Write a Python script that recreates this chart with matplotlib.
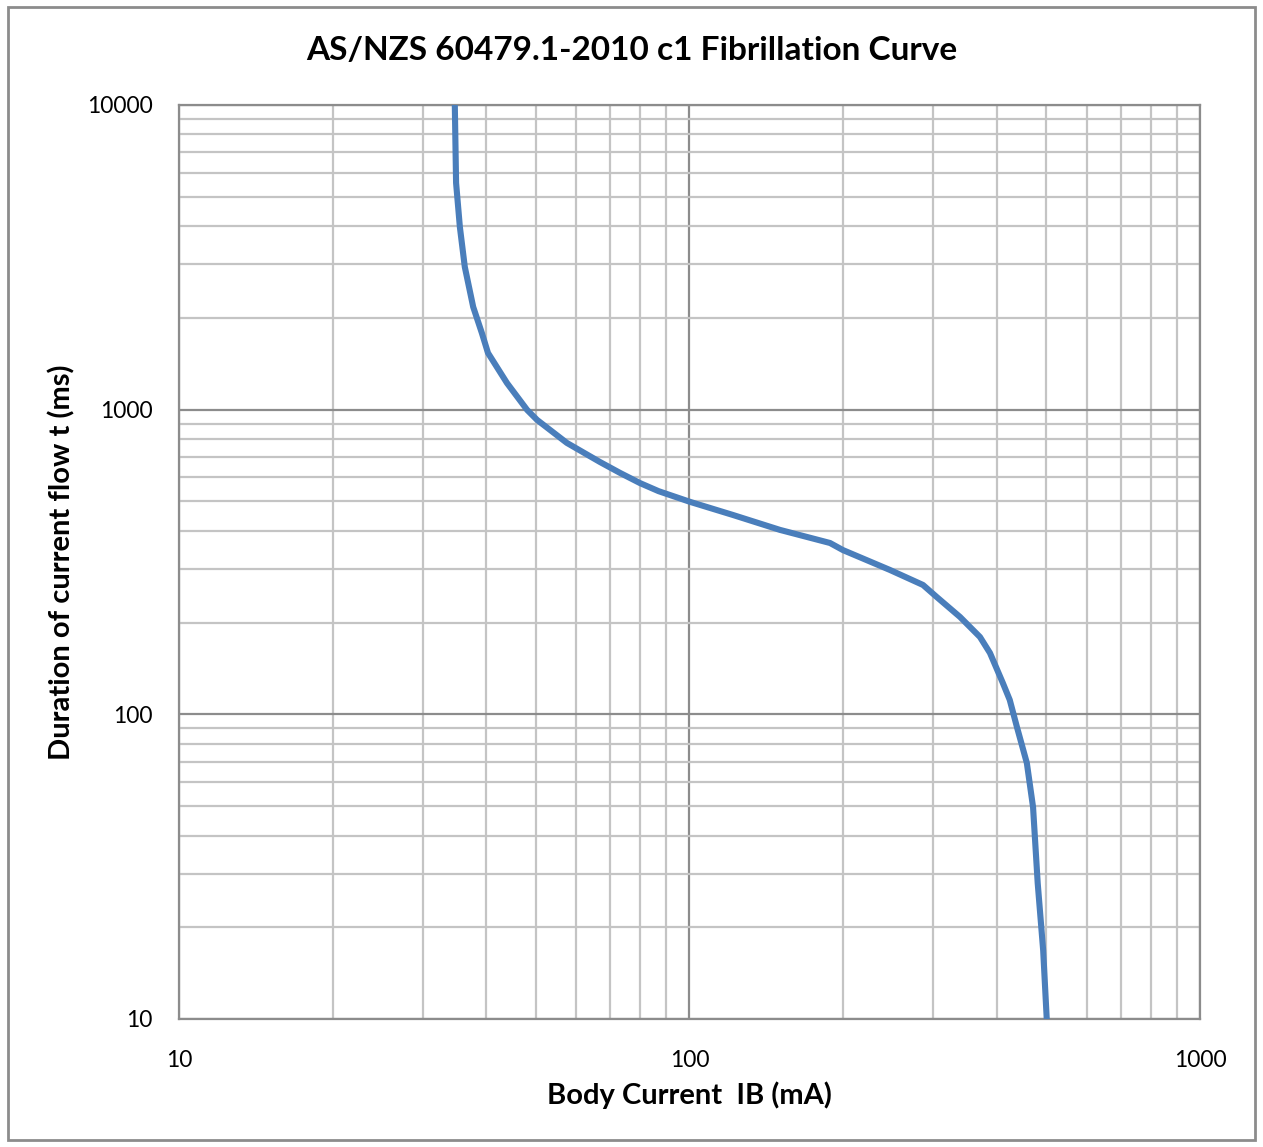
import matplotlib
matplotlib.use("Agg")
import matplotlib.pyplot as plt
from matplotlib.patches import Rectangle
from matplotlib.ticker import LogLocator, NullFormatter, FixedLocator, FixedFormatter

# body current (mA) vs duration (ms)
current_ma = [34.7, 34.9, 35.5, 36.3, 37.7, 39.2, 40.3, 43.9, 48.1, 50.3, 57.5,
              66.8, 73.1, 80.0, 87.0, 100.3, 121.7, 150.4, 188.5, 199.8, 247, 286.7,
              305, 338.8, 370.7, 387.8, 411, 424, 438, 458, 471, 481, 493, 501]
duration_ms = [10000, 5550, 3978, 2940, 2173, 1785, 1535, 1223, 997, 925, 778,
               673, 620, 574, 540, 498, 451, 403, 365, 346, 297.7, 265.8,
               242.7, 208.7, 179.4, 159, 126.7, 111.5, 90.8, 69.2, 49.6, 27.9, 16.8, 10]

x_ticks = [10, 100, 1000]
y_ticks = [10, 100, 1000, 10000]

plt.rcParams['font.family'] = ['Lato', 'DejaVu Sans']

fig = plt.figure(figsize=(12.63, 11.47), dpi=100)
ax = fig.add_axes([0.1417, 0.1116, 0.9501 - 0.1417, 0.9085 - 0.1116])

ax.plot(current_ma, duration_ms, color='#4a7ebb', lw=4.4, solid_joinstyle='round', zorder=3)

ax.set_xscale('log')
ax.set_yscale('log')
ax.set_xlim(10, 1000)
ax.set_ylim(10, 10000)

ax.xaxis.set_major_locator(FixedLocator(x_ticks))
ax.xaxis.set_major_formatter(FixedFormatter([str(v) for v in x_ticks]))
ax.yaxis.set_major_locator(FixedLocator(y_ticks))
ax.yaxis.set_major_formatter(FixedFormatter([str(v) for v in y_ticks]))
ax.xaxis.set_minor_locator(LogLocator(base=10, subs=range(2, 10)))
ax.yaxis.set_minor_locator(LogLocator(base=10, subs=range(2, 10)))
ax.xaxis.set_minor_formatter(NullFormatter())
ax.yaxis.set_minor_formatter(NullFormatter())

ax.grid(which='major', color='#8c8c8c', lw=1.6)
ax.grid(which='minor', color='#c4c4c4', lw=1.6)
ax.set_axisbelow(True)
ax.tick_params(which='both', length=0)
ax.tick_params(axis='x', pad=22, labelsize=16.5)
ax.tick_params(axis='y', pad=19, labelsize=16.5)
for s in ax.spines.values():
    s.set_color('#8c8c8c')
    s.set_linewidth(1.6)

ax.set_xlabel('Body Current  IB (mA)', fontsize=21, fontweight='bold', labelpad=8)
ax.set_ylabel('Duration of current flow t (ms)', fontsize=21, fontweight='bold', labelpad=8)
fig.text(0.5, 0.956, 'AS/NZS 60479.1-2010 c1 Fibrillation Curve', fontsize=24,
         fontweight='bold', ha='center', va='center')

fig.patches.append(Rectangle((0.006, 0.006), 0.988, 0.988, transform=fig.transFigure,
                             fill=False, edgecolor='#8c8c8c', lw=2))

fig.savefig('out.png', dpi=100)
